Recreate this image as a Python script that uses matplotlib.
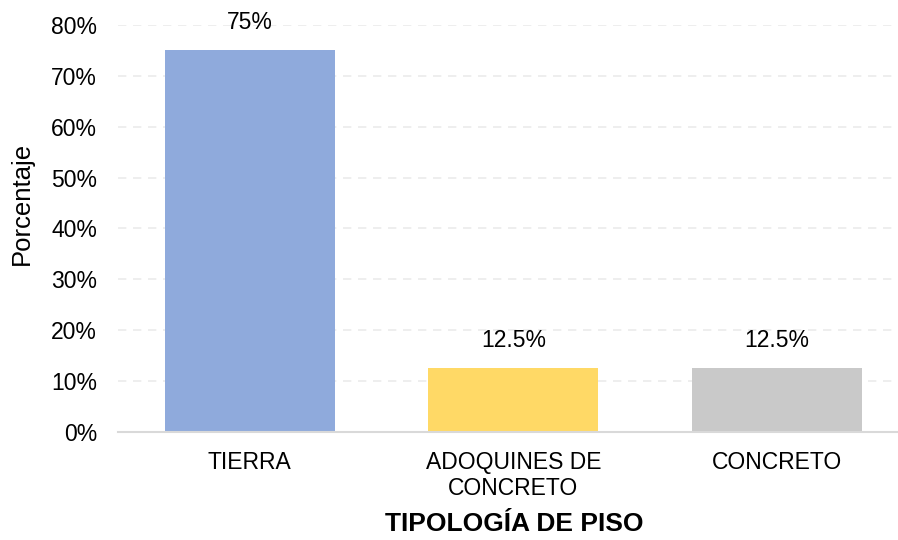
import matplotlib.pyplot as plt
from matplotlib.ticker import PercentFormatter

plt.rcParams['font.family'] = ['Liberation Sans', 'DejaVu Sans']

categorias = ['TIERRA', 'ADOQUINES DE\nCONCRETO', 'CONCRETO']
porcentajes = [75, 12.5, 12.5]
etiquetas = ['75%', '12.5%', '12.5%']
colores = ['#8FAADC', '#FFD966', '#C9C9C9']

fig = plt.figure(figsize=(8.98, 5.4), dpi=100)
ax = fig.add_axes([118 / 898, 0.2, 780 / 898, 0.754])

x = range(len(categorias))
bars = ax.bar(x, porcentajes, width=0.645, color=colores, zorder=2)

for b, txt in zip(bars, etiquetas):
    ax.annotate(txt, (b.get_x() + b.get_width() / 2, b.get_height()),
                xytext=(0, 12), textcoords='offset points',
                ha='center', va='bottom', fontsize=16.5)

ax.set_ylim(0, 80)
ax.set_xlim(-0.5, 2.46)
ax.set_yticks(range(0, 81, 10))
ax.yaxis.set_major_formatter(PercentFormatter(decimals=0))
ax.set_xticks(list(x))
ax.set_xticklabels(categorias, linespacing=1.15)
ax.tick_params(axis='y', length=0, pad=15, labelsize=16.5)
ax.tick_params(axis='x', length=0, pad=14, labelsize=16.5)

ax.grid(axis='y', color='#EBEBEB', linestyle=(0, (5, 4)), linewidth=1.2, zorder=0)
for s in ['top', 'right', 'left']:
    ax.spines[s].set_visible(False)
ax.spines['bottom'].set_color('#D9D9D9')
ax.spines['bottom'].set_linewidth(1.5)

fig.text(22 / 898, 1 - 203 / 540, 'Porcentaje', rotation=90,
         ha='center', va='center', fontsize=18.5)
fig.text(514 / 898, 4 / 540, 'TIPOLOGÍA DE PISO',
         ha='center', va='bottom', fontsize=19, fontweight='bold')

fig.savefig('out.png', dpi=100)
